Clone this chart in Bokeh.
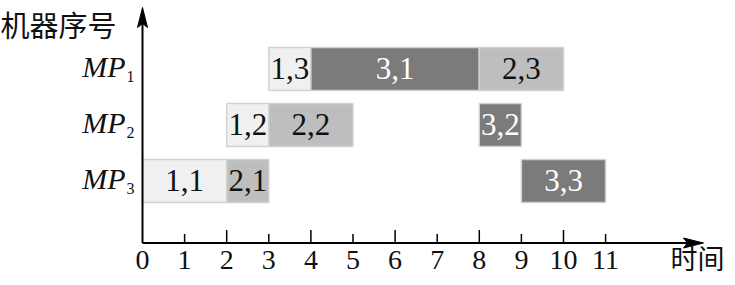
from bokeh.plotting import figure
from bokeh.models import ColumnDataSource, Range1d
from bokeh.core.properties import value
from bokeh.embed import file_html
from bokeh.resources import INLINE

# ---- data ----
machines = ["MP1", "MP1", "MP1", "MP2", "MP2", "MP2", "MP3", "MP3", "MP3"]
job_labels = ["1,3", "3,1", "2,3", "1,2", "2,2", "3,2", "1,1", "2,1", "3,3"]
starts = [3, 4, 8, 2, 3, 8, 0, 2, 9]
ends = [4, 8, 10, 3, 5, 9, 2, 3, 11]
machine_names = ["MP", "MP", "MP"]
machine_subs = ["1", "2", "3"]
machine_rows = [3, 2, 1]
tick_values = list(range(0, 12))
tick_labels = [str(t) for t in tick_values]
y_title = "机器序号"
x_title = "时间"

# ---- style / layout ----
PX_X = 42.1   # pixels per time unit
PX_Y = 56.0   # pixels per row
W, H = 727, 277
ORIG_X = 142.0
ROW1_Y = 180.5
AXIS_PX = 242.5
x0 = -ORIG_X / PX_X
y_top = 1 + ROW1_Y / PX_Y
y_bot = 1 - (H - ROW1_Y) / PX_Y
axis_y = 1 - (AXIS_PX - ROW1_Y) / PX_Y
bar_h = 43 / PX_Y
serif = "Liberation Serif"

row_of = dict(zip(["MP1", "MP2", "MP3"], machine_rows))
fill_of = {"1": "#f0f0f0", "2": "#bebebe", "3": "#7b7b7b"}
text_col_of = {"1": "#111111", "2": "#111111", "3": "#ffffff"}

src = ColumnDataSource(dict(
    left=starts, right=ends,
    y=[row_of[m] for m in machines],
    label=job_labels,
    mid=[(a + b) / 2 for a, b in zip(starts, ends)],
    fill=[fill_of[l[0]] for l in job_labels],
    tcol=[text_col_of[l[0]] for l in job_labels],
))

p = figure(width=W, height=H, output_backend="svg", toolbar_location=None,
           x_range=Range1d(x0, x0 + W / PX_X), y_range=Range1d(y_bot, y_top),
           min_border=0)
p.axis.visible = False
p.grid.visible = False
p.outline_line_color = None
p.background_fill_color = "white"

# bars
p.hbar(y="y", left="left", right="right", height=bar_h, fill_color="fill",
       line_color="#d2d2d2", line_width=1.5, source=src)
p.text(x="mid", y="y", text="label", text_color="tcol", text_align="center",
       text_baseline="middle", text_font=value(serif), text_font_size="31px",
       y_offset=-1, source=src)

# axes
x_end = (703 - ORIG_X) / PX_X
y_end = axis_y + (AXIS_PX - 7) / PX_Y
p.line([0, x_end - 15 / PX_X], [axis_y, axis_y], line_color="black", line_width=2)
p.line([0, 0], [axis_y, y_end - 15 / PX_Y], line_color="black", line_width=2)
# arrow heads
p.patch([x_end, x_end - 20 / PX_X, x_end - 16 / PX_X, x_end - 20 / PX_X],
        [axis_y, axis_y + 5 / PX_Y, axis_y, axis_y - 5 / PX_Y], color="black")
p.patch([0, 5 / PX_X, 0, -5 / PX_X],
        [y_end, y_end - 20 / PX_Y, y_end - 16 / PX_Y, y_end - 20 / PX_Y], color="black")
# ticks
tk_len = [(13 if t % 2 == 0 else 9) / PX_Y for t in tick_values]
p.segment(x0=tick_values[1:], y0=[axis_y] * 11, x1=tick_values[1:],
          y1=[axis_y + l for l in tk_len[1:]], line_color="black", line_width=1.5)
p.text(x=tick_values, y=[axis_y] * len(tick_values), text=tick_labels,
       text_align="center", text_baseline="middle", y_offset=17,
       text_font=value(serif), text_font_size="28px", text_color="#111111")

# machine labels
name_x = -17 / PX_X
p.text(x=[name_x] * 3, y=machine_rows, text=machine_names, text_align="right",
       text_baseline="middle", y_offset=-3, text_font=value(serif),
       text_font_style="italic", text_font_size="30px", text_color="#111111")
p.text(x=[name_x] * 3, y=machine_rows, text=machine_subs, text_align="left",
       text_baseline="middle", y_offset=7, x_offset=1,
       text_font=value(serif), text_font_size="16px", text_color="#111111")

# titles
p.text(x=[x0], y=[y_top], text=[y_title], text_align="left", text_baseline="top",
       y_offset=2, text_font=value("Noto Sans CJK SC"), text_font_size="29px",
       text_color="#111111")
p.text(x=[x0 + W / PX_X], y=[y_bot], text=[x_title], text_align="right",
       text_baseline="bottom", x_offset=-3, y_offset=-1,
       text_font=value("Noto Sans CJK SC"), text_font_size="27px",
       text_color="#111111")

open("out.html", "w").write(file_html(p, INLINE))
